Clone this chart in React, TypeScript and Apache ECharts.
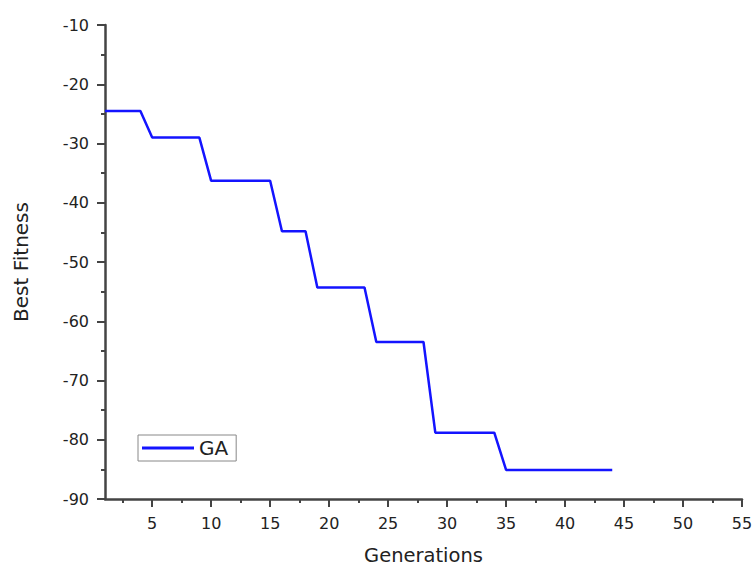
import React, { useEffect, useRef } from "react";
import * as echarts from "echarts";

const generations = [
  1, 2, 3, 4, 5, 6, 7, 8, 9, 10, 11, 12, 13, 14, 15, 16, 17, 18, 19, 20, 21, 22,
  23, 24, 25, 26, 27, 28, 29, 30, 31, 32, 33, 34, 35, 36, 37, 38, 39, 40, 41, 42,
  43, 44,
];
const bestFitness = [
  -24.5, -24.5, -24.5, -24.5,
  -29.0, -29.0, -29.0, -29.0, -29.0,
  -36.3, -36.3, -36.3, -36.3, -36.3, -36.3,
  -44.8, -44.8, -44.8,
  -54.3, -54.3, -54.3, -54.3, -54.3,
  -63.5, -63.5, -63.5, -63.5, -63.5,
  -78.8, -78.8, -78.8, -78.8, -78.8, -78.8,
  -85.1, -85.1, -85.1, -85.1, -85.1, -85.1, -85.1, -85.1, -85.1, -85.1,
];
const xMajorTicks = [5, 10, 15, 20, 25, 30, 35, 40, 45, 50, 55];
const xMinorTicks = [2.5, 7.5, 12.5, 17.5, 22.5, 27.5, 32.5, 37.5, 42.5, 47.5, 52.5];

const AXIS_COLOR = "#444";
const TEXT_COLOR = "#222";
const FONT = "DejaVu Sans, Arial, sans-serif";
const LINE_COLOR = "#1414ff";

export default function App() {
  const ref = useRef<HTMLDivElement>(null);
  useEffect(() => {
    if (!ref.current) return;
    const chart = echarts.init(ref.current, null, { renderer: "svg" });
    chart.setOption({
      animation: false,
      backgroundColor: "#fff",
      textStyle: { fontFamily: FONT },
      grid: { left: 105, right: 13, top: 25, bottom: 68, outerBoundsMode: "none", containLabel: false },
      legend: {
        left: 138,
        top: 435,
        orient: "vertical",
        borderColor: "#888",
        borderWidth: 1,
        padding: [3, 8, 3, 4],
        icon: "rect",
        itemWidth: 52,
        itemHeight: 3,
        textStyle: { fontSize: 20, lineHeight: 20, color: TEXT_COLOR, fontFamily: FONT },
        data: ["GA"],
      },
      xAxis: [
        {
          type: "value",
          min: 1,
          max: 55,
          name: "Generations",
          nameLocation: "middle",
          nameGap: 46,
          nameTextStyle: { fontSize: 19.5, color: TEXT_COLOR, fontFamily: FONT },
          axisLine: { show: true, lineStyle: { color: AXIS_COLOR, width: 2.5 } },
          axisTick: { show: true, length: 8, customValues: xMajorTicks, lineStyle: { color: AXIS_COLOR, width: 2 } },
          axisLabel: { show: true, customValues: xMajorTicks, margin: 16, fontSize: 16, color: TEXT_COLOR, fontFamily: FONT },
          splitLine: { show: false },
        },
        {
          type: "value",
          min: 1,
          max: 55,
          position: "bottom",
          axisLine: { show: false },
          axisTick: { show: true, length: 4, customValues: xMinorTicks, lineStyle: { color: AXIS_COLOR, width: 2 } },
          axisLabel: { show: false },
          splitLine: { show: false },
        },
      ],
      yAxis: {
        type: "value",
        min: -90,
        max: -10,
        interval: 10,
        name: "Best Fitness",
        nameLocation: "middle",
        nameGap: 74,
        nameTextStyle: { fontSize: 20, color: TEXT_COLOR, fontFamily: FONT },
        axisLine: { show: true, lineStyle: { color: AXIS_COLOR, width: 2.5 } },
        axisTick: { show: true, length: 8, lineStyle: { color: AXIS_COLOR, width: 2 } },
        minorTick: { show: true, splitNumber: 2, length: 4, lineStyle: { color: AXIS_COLOR, width: 2 } },
        axisLabel: { margin: 16, fontSize: 16, color: TEXT_COLOR, fontFamily: FONT },
        splitLine: { show: false },
      },
      series: [
        {
          name: "GA",
          type: "line",
          symbol: "none",
          data: generations.map((g, i) => [g, bestFitness[i]]),
          lineStyle: { color: LINE_COLOR, width: 2.5 },
          itemStyle: { color: LINE_COLOR },
        },
      ],
    });
    return () => chart.dispose();
  }, []);
  return <div ref={ref} style={{ width: 755, height: 567, position: "absolute", left: 0, top: 0 }} />;
}
